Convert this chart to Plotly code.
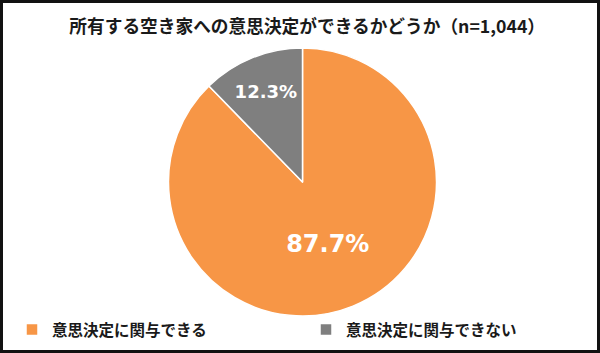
import plotly.graph_objects as go

labels = ["意思決定に関与できる", "意思決定に関与できない"]
values = [87.7, 12.3]
colors = ["#F79646", "#7F7F7F"]
title_text = "所有する空き家への意思決定ができるかどうか（n=1,044）"

W, H = 600, 353
cx, cy, r = 302.5, 182, 134

fig = go.Figure(go.Pie(
    labels=labels,
    values=values,
    sort=False,
    direction="clockwise",
    rotation=0,
    marker=dict(colors=colors, line=dict(color="white", width=1.5)),
    texttemplate="<b>%{value:.1f}%</b>",
    textposition="inside",
    insidetextorientation="horizontal",
    textfont=dict(color="white", size=[24, 18], family="DejaVu Sans"),
    hoverinfo="label+percent",
    domain=dict(x=[(cx - r) / W, (cx + r) / W],
                y=[(H - cy - r) / H, (H - cy + r) / H]),
))

fig.update_layout(
    width=W, height=H,
    margin=dict(l=0, r=0, t=0, b=0),
    paper_bgcolor="white",
    font=dict(family="Noto Sans CJK JP", color="#1a1a1a"),
    title=dict(text="<b>" + title_text + "</b>", x=0.512, xanchor="center",
               y=1 - 27 / H, yanchor="middle",
               font=dict(size=17.7, color="#1a1a1a")),
    showlegend=True,
    legend=dict(orientation="h", x=0.028, xanchor="left", y=(H - 330) / H,
                yanchor="middle", entrywidth=249, entrywidthmode="pixels",
                font=dict(size=15.5, color="#1a1a1a", weight="bold"),
                itemclick=False, bgcolor="rgba(0,0,0,0)"),
    shapes=[dict(type="rect", xref="paper", yref="paper",
                 x0=1.5 / W, x1=1 - 1.5 / W, y0=1.5 / H, y1=1 - 1.5 / H,
                 line=dict(color="#111111", width=3), layer="above")],
)

fig.write_html("out.html")
